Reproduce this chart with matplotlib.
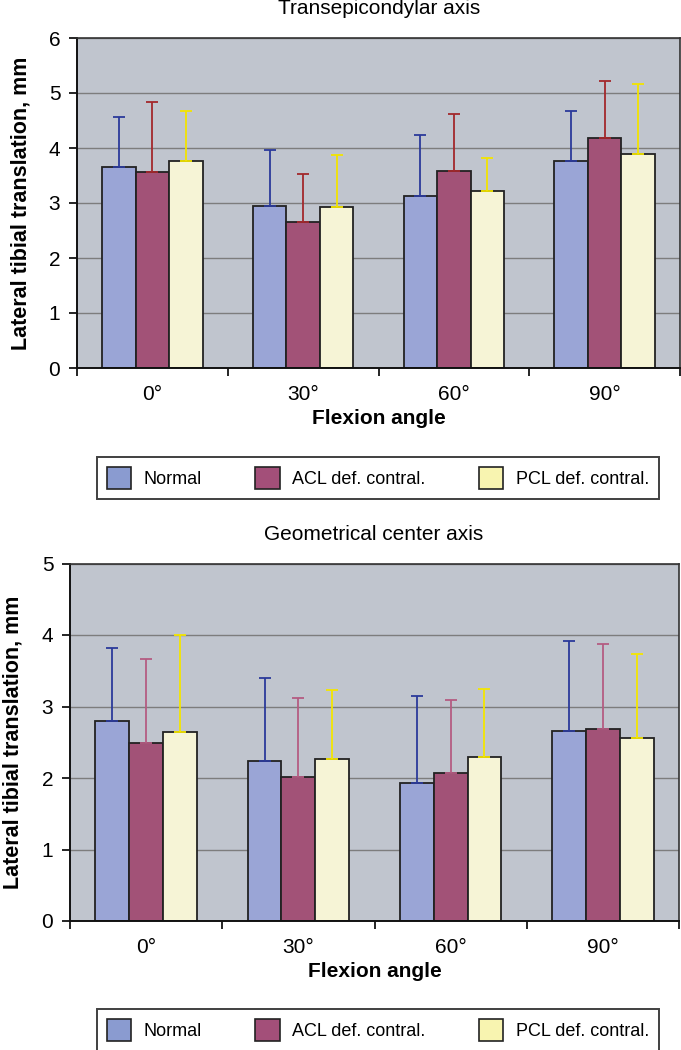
import matplotlib
matplotlib.use("Agg")
import matplotlib.pyplot as plt
from matplotlib.patches import Patch
import numpy as np

plt.rcParams['font.family'] = ['Liberation Sans', 'DejaVu Sans']

# data
angles = ['0°', '30°', '60°', '90°']
series = ['Normal', 'ACL def. contral.', 'PCL def. contral.']

trans_mean = [[3.65, 2.95, 3.13, 3.76],
              [3.56, 2.65, 3.58, 4.18],
              [3.76, 2.93, 3.21, 3.90]]
trans_top = [[4.57, 3.96, 4.23, 4.68],
             [4.83, 3.53, 4.61, 5.21],
             [4.68, 3.88, 3.82, 5.17]]

geo_mean = [[2.80, 2.24, 1.93, 2.66],
            [2.49, 2.02, 2.07, 2.68],
            [2.65, 2.27, 2.29, 2.56]]
geo_top = [[3.82, 3.40, 3.14, 3.91],
           [3.67, 3.12, 3.09, 3.88],
           [4.00, 3.23, 3.25, 3.74]]

bar_colors = ['#9aa5d6', '#a25277', '#f6f4d6']
legend_colors = ['#8a9bd0', '#a34f79', '#f8f4b0']
err_colors_top = ['#2b3a9a', '#a3282c', '#f2e400']
err_colors_bot = ['#2b3a9a', '#b45c82', '#f4e600']


def draw_panel(ax, means, tops, err_colors, ymax):
    x = np.arange(len(angles))
    w = 0.222
    for i in range(3):
        m = np.array(means[i])
        err = np.array(tops[i]) - m
        xi = x + (i - 1) * w
        ax.bar(xi, m, width=w, color=bar_colors[i], edgecolor='#222222',
               linewidth=1.3, zorder=2)
        ax.errorbar(xi, m, yerr=[np.zeros_like(err), err], fmt='none',
                    ecolor=err_colors[i], elinewidth=1.3, capsize=4,
                    capthick=1.3, zorder=3)
    ax.set_facecolor('#c0c5ce')
    ax.set_xlim(-0.5, 3.5)
    ax.set_ylim(0, ymax)
    ax.set_yticks(range(ymax + 1))
    ax.yaxis.grid(True, color='#7d7d7d', linewidth=1)
    ax.set_axisbelow(True)
    ax.set_xticks(x)
    ax.set_xticklabels(angles, fontsize=15)
    ax.set_xticks(np.arange(-0.5, 4, 1), minor=True)
    ax.tick_params(axis='x', which='major', length=0, pad=12)
    ax.tick_params(axis='x', which='minor', length=6, width=1.2, direction='out')
    ax.tick_params(axis='y', labelsize=15, length=6, width=1.2, pad=6)
    for s in ['left', 'bottom']:
        ax.spines[s].set_color('#111111')
        ax.spines[s].set_linewidth(1.4)
    for s in ['top', 'right']:
        ax.spines[s].set_color('#333333')
        ax.spines[s].set_linewidth(1.2)
    ax.set_xlabel('Flexion angle', fontsize=15, fontweight='bold', labelpad=4)
    ax.set_ylabel('Lateral tibial translation, mm', fontsize=15.5, fontweight='bold')


fig = plt.figure(figsize=(6.81, 10.5), dpi=100)
W, H = 681, 1050

ax1 = fig.add_axes([77 / W, 1 - 368 / H, (680 - 77) / W, (368 - 38) / H])
draw_panel(ax1, trans_mean, trans_top, err_colors_top, 6)
ax1.yaxis.set_label_coords((32 - 77) / 603, 0.5)

ax2 = fig.add_axes([70 / W, 1 - 921 / H, (679 - 70) / W, (921 - 563.5) / H])
draw_panel(ax2, geo_mean, geo_top, err_colors_bot, 5)
ax2.yaxis.set_label_coords((24 - 70) / 609, 0.5)

fig.text(379 / W, 1 - 9 / H, 'Transepicondylar axis', fontsize=15,
         ha='center', va='center')
fig.text(374 / W, 1 - 535 / H, 'Geometrical center axis', fontsize=15,
         ha='center', va='center')

handles = [Patch(facecolor=c, edgecolor='#222222', linewidth=1.2) for c in legend_colors]
for yc in [478, 1030]:
    leg = fig.legend(handles, series, loc='center', bbox_to_anchor=(378 / W, 1 - yc / H),
                     ncol=3, fontsize=13, frameon=True, fancybox=False,
                     edgecolor='#111111', handlelength=1.35, handleheight=1.5,
                     handletextpad=0.7, columnspacing=2.95, borderpad=0.55)
    leg.get_frame().set_linewidth(1.4)

fig.savefig('out.png', dpi=100)
